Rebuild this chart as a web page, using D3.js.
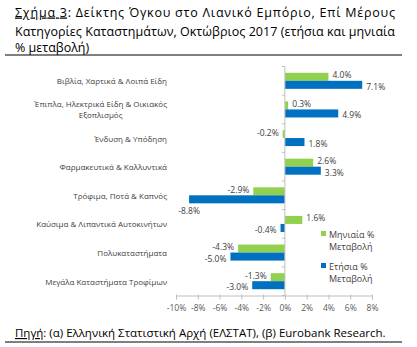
<!DOCTYPE html>
<html><head><meta charset="utf-8">
<script src="https://cdn.jsdelivr.net/npm/d3@7"></script>
<style>
html,body{margin:0;padding:0;background:#fff;}
svg{display:block;}
</style></head>
<body>
<svg id="c" width="417" height="347"></svg>
<script>
const categories = [
  ["Βιβλία, Χαρτικά & Λοιπά Είδη"],
  ["Έπιπλα, Ηλεκτρικά Είδη & Οικιακός", "Εξοπλισμός"],
  ["Ένδυση & Υπόδηση"],
  ["Φαρμακευτικά & Καλλυντικά"],
  ["Τρόφιμα, Ποτά & Καπνός"],
  ["Καύσιμα & Λιπαντικά Αυτοκινήτων"],
  ["Πολυκαταστήματα"],
  ["Μεγάλα Καταστήματα Τροφίμων"]
];
const monthly = [4.0, 0.3, -0.2, 2.6, -2.9, 1.6, -4.3, -1.3];
const annual  = [7.1, 4.9, 1.8, 3.3, -8.8, -0.4, -5.0, -3.0];
const seriesNames = [["Μηνιαία %", "Μεταβολή"], ["Ετήσια %", "Μεταβολή"]];
const tickValues = [-10, -8, -6, -4, -2, 0, 2, 4, 6, 8];
const titleLines = ["Δείκτης Όγκου στο Λιανικό Εμπόριο, Επί Μέρους",
  "Κατηγορίες Καταστημάτων, Οκτώβριος 2017 (ετήσια και μηνιαία",
  "% μεταβολή)"];
const colors = ["#92D050", "#0070C0"];

const svg = d3.select("#c");
const FONT = "'Open Sans', 'Noto Sans', sans-serif";

// Title
const tf = 12.5;
const t1 = svg.append("text").attr("x", 15).attr("y", 16.5).attr("font-family", FONT).attr("font-size", tf).attr("fill", "#000")
  .attr("textLength", 380).attr("lengthAdjust", "spacing");
t1.append("tspan").attr("text-decoration", "underline").text("Σχήμα 3");
t1.append("tspan").text(": " + titleLines[0]);
svg.append("text").attr("x", 15).attr("y", 35.5).attr("font-family", FONT).attr("font-size", tf)
  .attr("textLength", 380).attr("lengthAdjust", "spacing").text(titleLines[1]);
svg.append("text").attr("x", 15).attr("y", 52).attr("font-family", FONT).attr("font-size", tf).text(titleLines[2]);
svg.append("line").attr("x1", 5).attr("x2", 402).attr("y1", 55).attr("y2", 55).attr("stroke", "#000").attr("stroke-width", 1.2);

// Scales
const x = d3.scaleLinear().domain([-10, 8]).range([176, 372]);
const idx = d3.range(categories.length);
const y = d3.scaleBand().domain(idx).range([66.5, 295.5]).paddingInner(0.44).paddingOuter(0.22);
const ySub = d3.scaleBand().domain([0, 1]).range([0, y.bandwidth()]);
const step = y.step();

const g = svg.append("g");

// x axis
const xAxis = d3.axisBottom(x).tickValues(tickValues).tickSize(4).tickFormat(d => d + "%");
const xa = svg.append("g").attr("transform", "translate(0,295.5)").call(xAxis);
xa.select(".domain").attr("stroke", "#bfbfbf");
xa.selectAll(".tick line").attr("stroke", "#bfbfbf").attr("y1", -1);
xa.selectAll(".tick text").attr("font-family", FONT).attr("font-size", 8.5).attr("fill", "#595959").attr("dy", "0.95em");

// bars
const data = [];
idx.forEach(i => { data.push({i, s: 0, v: monthly[i]}); data.push({i, s: 1, v: annual[i]}); });
g.selectAll("rect").data(data).join("rect")
  .attr("x", d => x(Math.min(0, d.v)))
  .attr("width", d => Math.abs(x(d.v) - x(0)))
  .attr("y", d => y(d.i) + ySub(d.s))
  .attr("height", ySub.bandwidth())
  .attr("fill", d => colors[d.s]);

// y axis line & ticks
svg.append("line").attr("x1", x(0)).attr("x2", x(0)).attr("y1", 66.5).attr("y2", 295.5).attr("stroke", "#bfbfbf");
d3.range(categories.length + 1).forEach(k => {
  svg.append("line").attr("x1", x(0) - 3).attr("x2", x(0)).attr("y1", 66.5 + k * step).attr("y2", 66.5 + k * step).attr("stroke", "#bfbfbf");
});

// value labels
const lab = svg.append("g").attr("font-family", FONT).attr("font-size", 8.5).attr("fill", "#404040");
data.forEach(d => {
  const cy = y(d.i) + ySub(d.s) + ySub.bandwidth() / 2 + (d.s === 0 ? -2 : 1.5);
  const txt = d.v.toFixed(1) + "%";
  const t = lab.append("text").text(txt).attr("dominant-baseline", "central");
  if (d.v >= 0) {
    t.attr("x", x(d.v) + 4).attr("y", cy).attr("text-anchor", "start");
  } else {
    const w = t.node().getComputedTextLength();
    if (x(d.v) - 4 - w < x.range()[0]) {
      t.attr("x", x(d.v)).attr("y", cy + 10).attr("text-anchor", "middle");
    } else {
      t.attr("x", x(d.v) - 4).attr("y", cy).attr("text-anchor", "end");
    }
  }
});

// category labels
const cl = svg.append("g").attr("font-family", FONT).attr("font-size", 8).attr("fill", "#404040");
idx.forEach(i => {
  const lines = categories[i];
  const cy = y(i) + y.bandwidth() / 2;
  const first = cl.append("text").attr("x", 167).attr("text-anchor", "end").attr("dominant-baseline", "central").text(lines[0]);
  if (lines.length === 1) {
    first.attr("y", cy);
  } else {
    const w = first.node().getComputedTextLength();
    first.attr("y", cy - 5.5);
    cl.append("text").attr("x", 167 - w / 2).attr("y", cy + 5.5).attr("text-anchor", "middle").attr("dominant-baseline", "central").text(lines[1]);
  }
});

// legend
const lg = svg.append("g").attr("font-family", FONT).attr("font-size", 9).attr("fill", "#404040");
[234, 266].forEach((ly, s) => {
  lg.append("rect").attr("x", 321).attr("y", ly - 3).attr("width", 5).attr("height", 5).attr("fill", colors[s]);
  lg.append("text").attr("x", 329).attr("y", ly).attr("dominant-baseline", "central").text(seriesNames[s][0]);
  lg.append("text").attr("x", 329).attr("y", ly + 12).attr("dominant-baseline", "central").text(seriesNames[s][1]);
});

// footer
const ft = svg.append("text").attr("x", 15).attr("y", 337).attr("font-family", FONT).attr("font-size", 11.5).attr("fill", "#000");
ft.append("tspan").attr("text-decoration", "underline").text("Πηγή");
ft.append("tspan").text(": (α) Ελληνική Στατιστική Αρχή (ΕΛΣΤΑΤ), (β) Eurobank Research.");
svg.append("line").attr("x1", 5).attr("x2", 402).attr("y1", 342).attr("y2", 342).attr("stroke", "#000").attr("stroke-width", 1.2);
</script>
</body></html>
